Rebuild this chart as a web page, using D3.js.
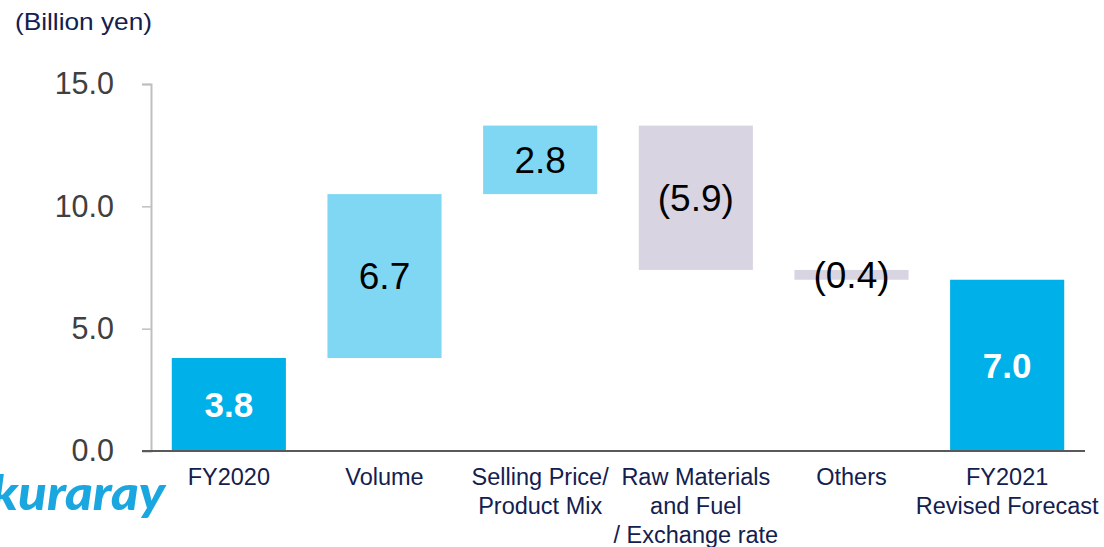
<!DOCTYPE html>
<html>
<head>
<meta charset="utf-8">
<script src="https://cdn.jsdelivr.net/npm/d3@7"></script>
<style>
  html, body { margin: 0; padding: 0; background: #fff; }
  svg { display: block; font-family: "Liberation Sans", Arial, sans-serif; }
</style>
</head>
<body>
<svg id="chart" width="1104" height="547"></svg>
<script>
// Operating income bridge, FY2020 -> FY2021 revised forecast
const categories = [
  ["FY2020"],
  ["Volume"],
  ["Selling Price/", "Product Mix"],
  ["Raw Materials", "and Fuel", "/ Exchange rate"],
  ["Others"],
  ["FY2021", "Revised Forecast"]
];
const kinds = ["total", "up", "up", "down", "down", "total"];
const values = [3.8, 6.7, 2.8, -5.9, -0.4, 7.0];
const valueLabels = ["3.8", "6.7", "2.8", "(5.9)", "(0.4)", "7.0"];
const yTicks = [0, 5, 10, 15];

const colors = { total: "#00b0e8", up: "#80d7f3", down: "#d9d4e1" };

const svg = d3.select("#chart");

const y = d3.scaleLinear().domain([0, 15]).range([451, 84]);
const x = d3.scaleBand()
  .domain(d3.range(categories.length))
  .range([151, 1085])
  .paddingInner(0.267)
  .paddingOuter(0.1335);

// running start/end of each step
let run = 0;
const steps = values.map((v, i) => {
  let s, e;
  if (kinds[i] === "total") { s = 0; e = v; run = v; }
  else { s = run; e = run + v; run = e; }
  return { i, s, e, kind: kinds[i], label: valueLabels[i] };
});

// y axis
const yAxis = d3.axisLeft(y)
  .tickValues(yTicks)
  .tickFormat(d3.format(".1f"))
  .tickSize(9)
  .tickPadding(28)
  .tickSizeOuter(9);
const gy = svg.append("g").attr("transform", "translate(151,0)").call(yAxis);
gy.select(".domain").attr("stroke", "#bfbfbf").attr("stroke-width", 2);
gy.selectAll(".tick line").attr("stroke", "#bfbfbf").attr("stroke-width", 1.5);
gy.selectAll(".tick text")
  .attr("fill", "#404040")
  .attr("font-size", 30.5)
  .attr("font-family", "Liberation Sans, Arial, sans-serif");

// bars
svg.append("g").selectAll("rect")
  .data(steps)
  .join("rect")
  .attr("x", d => x(d.i))
  .attr("width", x.bandwidth())
  .attr("y", d => y(Math.max(d.s, d.e)))
  .attr("height", d => Math.abs(y(d.s) - y(d.e)))
  .attr("fill", d => colors[d.kind]);

// baseline
svg.append("line")
  .attr("x1", 142).attr("x2", 1085)
  .attr("y1", y(0)).attr("y2", y(0))
  .attr("stroke", "#595959").attr("stroke-width", 2);

// value labels
svg.append("g").selectAll("text")
  .data(steps)
  .join("text")
  .attr("x", d => x(d.i) + x.bandwidth() / 2)
  .attr("y", d => (y(d.s) + y(d.e)) / 2)
  .attr("dy", "0.36em")
  .attr("text-anchor", "middle")
  .attr("font-size", d => d.kind === "total" ? 35 : 37)
  .attr("font-weight", d => d.kind === "total" ? "bold" : "normal")
  .attr("fill", d => d.kind === "total" ? "#ffffff" : "#000000")
  .text(d => d.label);

// category labels
const cat = svg.append("g").selectAll("text")
  .data(categories)
  .join("text")
  .attr("x", (d, i) => x(i) + x.bandwidth() / 2)
  .attr("y", 485)
  .attr("text-anchor", "middle")
  .attr("font-size", 23.5)
  .attr("fill", "#13204f");
cat.selectAll("tspan")
  .data(d => d)
  .join("tspan")
  .attr("x", function () { return this.parentNode.getAttribute("x"); })
  .attr("dy", (d, j) => j === 0 ? 0 : 29)
  .text(d => d);

// unit
svg.append("text")
  .attr("x", 15).attr("y", 30)
  .attr("font-size", 24)
  .attr("textLength", 137)
  .attr("lengthAdjust", "spacingAndGlyphs")
  .attr("fill", "#13204f")
  .text("(Billion yen)");

// logo wordmark
svg.append("text")
  .attr("x", -9).attr("y", 510)
  .attr("font-size", 47)
  .attr("font-weight", 900)
  .attr("font-style", "italic")
  .attr("font-family", "Lato, 'Open Sans', sans-serif")
  .attr("textLength", 174)
  .attr("lengthAdjust", "spacingAndGlyphs")
  .attr("fill", "#1aa7e0")
  .text("kuraray");
</script>
</body>
</html>
